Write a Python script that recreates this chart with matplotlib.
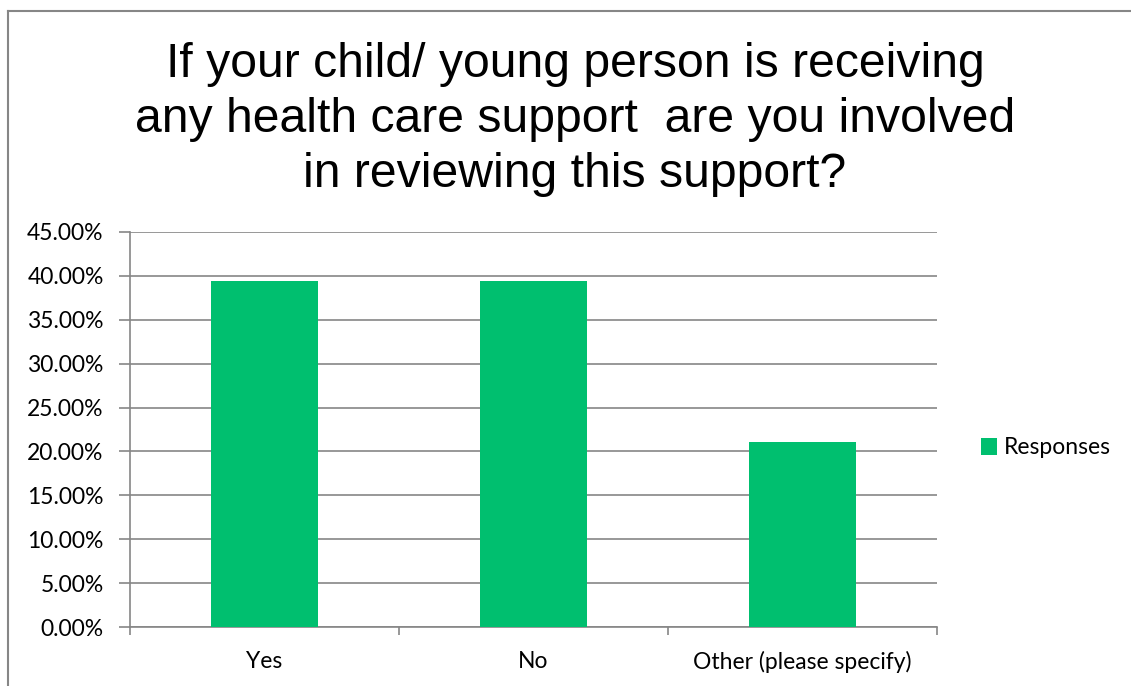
import matplotlib.pyplot as plt
import matplotlib.lines as mlines
from matplotlib.ticker import FuncFormatter

# survey answers and share of responses (%)
categories = ["Yes", "No", "Other (please specify)"]
responses = [39.47, 39.47, 21.05]
y_ticks = [0, 5, 10, 15, 20, 25, 30, 35, 40, 45]

title = ("If your child/ young person is receiving\n"
         "any health care support  are you involved\n"
         "in reviewing this support?")

BAR_GREEN = "#00BF6F"
GRID_GRAY = "#868686"
LABEL_FONT = ["Lato", "DejaVu Sans"]
LABEL_SIZE = 16.5

fig = plt.figure(figsize=(11.31, 6.86), dpi=100)
ax = fig.add_axes([130 / 1131, 1 - 627 / 686, 807 / 1131, 395 / 686])

x = list(range(len(categories)))
ax.bar(x, responses, width=0.40, color=BAR_GREEN, zorder=3, label="Responses")

ax.set_xlim(-0.5, len(categories) - 0.5)
ax.set_ylim(0, 45)
ax.set_yticks(y_ticks)
ax.yaxis.set_major_formatter(FuncFormatter(lambda v, _: f"{v:.2f}%"))
ax.grid(axis="y", color=GRID_GRAY, linewidth=1.2, zorder=0)

# category labels centred, tick marks on the boundaries between categories
ax.set_xticks(x)
ax.set_xticklabels(categories)
ax.tick_params(axis="x", length=0, pad=17)
ax.set_xticks([i - 0.5 for i in range(len(categories) + 1)], minor=True)
ax.tick_params(axis="x", which="minor", length=6, color=GRID_GRAY, width=1.2)
ax.tick_params(axis="y", length=8, color=GRID_GRAY, width=1.2, pad=11)

for lbl in ax.get_xticklabels() + ax.get_yticklabels():
    lbl.set_fontfamily(LABEL_FONT)
    lbl.set_fontsize(LABEL_SIZE)
    lbl.set_color("black")

for side in ["top", "right"]:
    ax.spines[side].set_visible(False)
for side in ["left", "bottom"]:
    ax.spines[side].set_color(GRID_GRAY)
    ax.spines[side].set_linewidth(1.2)

# baseline alignment of a multi-line text anchors its last line
fig.text(575 / 1131, 1 - 187 / 686, title, ha="center", va="baseline",
         fontsize=34.7, family="Liberation Sans", linespacing=1.29,
         multialignment="center")

leg = fig.legend(loc="center left", bbox_to_anchor=(960 / 1131, 1 - 448 / 686),
                 frameon=False, handlelength=0.7, handleheight=0.7,
                 handletextpad=0.3, prop={"family": LABEL_FONT, "size": LABEL_SIZE})

# chart area outline (left and top edges)
fig.add_artist(mlines.Line2D([8 / 1131, 8 / 1131], [0, 1 - 11 / 686],
                             transform=fig.transFigure, color=GRID_GRAY, linewidth=1.5))
fig.add_artist(mlines.Line2D([8 / 1131, 1], [1 - 11 / 686, 1 - 11 / 686],
                             transform=fig.transFigure, color=GRID_GRAY, linewidth=1.5))

fig.savefig("out.png", dpi=100)
